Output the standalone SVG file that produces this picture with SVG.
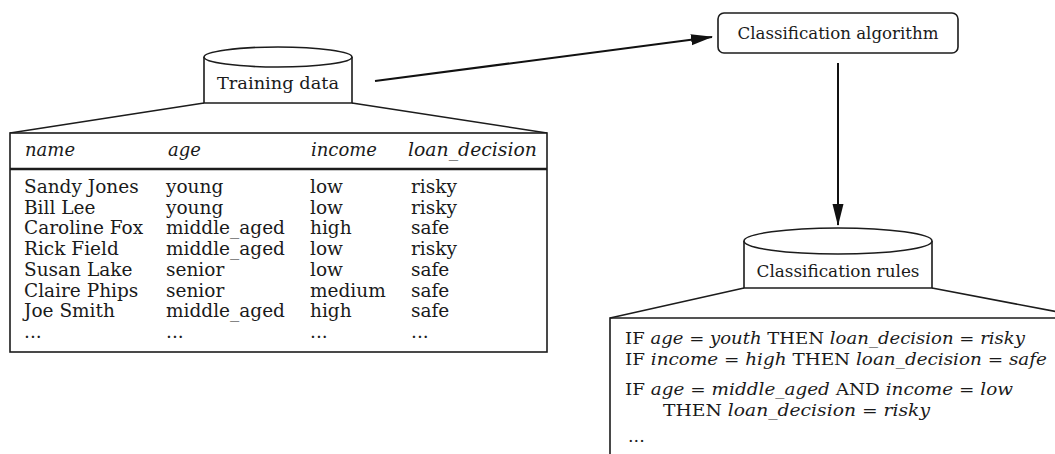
<svg xmlns="http://www.w3.org/2000/svg" width="1055" height="454" viewBox="0 0 1055 454">
  <defs>
    <marker id="arrow" markerWidth="22" markerHeight="14" refX="21" refY="7" orient="auto" markerUnits="userSpaceOnUse">
      <path d="M0,1.5 L22,7 L0,12.5 Z" fill="#111"/>
    </marker>
    <style>
      .frame { fill: #fff; stroke: #1c1c1c; stroke-width: 1.6; }
      .edge { fill: none; stroke: #1c1c1c; stroke-width: 1.6; }
      .link { fill: none; stroke: #111; stroke-width: 2; }
      text { font-family: "DejaVu Serif", "Liberation Serif", serif; fill: #1a1a1a; }
      .label { font-size: 17.5px; }
      .cell { font-size: 18.5px; }
      .head { font-size: 18px; font-style: italic; }
      .rule { font-size: 17.5px; }
      .it { font-style: italic; }
    </style>
  </defs>

  <!-- training data store with its table -->
  <g id="training-data">
    <path class="edge" d="M204,103 L10,133 M352,103 L547,133"/>
    <path class="frame" d="M204,57 L204,103 L352,103 L352,57"/>
    <ellipse class="frame" cx="278" cy="57" rx="74" ry="10"/>
    <text class="label" x="278" y="89" text-anchor="middle" textLength="122" lengthAdjust="spacingAndGlyphs">Training data</text>
  </g>

  <g id="training-table">
    <rect class="frame" x="10" y="133" width="537" height="219"/>
    <line x1="10" y1="169" x2="547" y2="169" stroke="#1c1c1c" stroke-width="2.6"/>
    <text class="head" x="25" y="156">name</text>
    <text class="head" x="168" y="156">age</text>
    <text class="head" x="311" y="156">income</text>
    <text class="head" x="408" y="156" textLength="129" lengthAdjust="spacingAndGlyphs">loan_decision</text>

    <g class="cell">
      <text x="24" y="193">Sandy Jones</text>
      <text x="24" y="213.7">Bill Lee</text>
      <text x="24" y="234.4">Caroline Fox</text>
      <text x="24" y="255.1">Rick Field</text>
      <text x="24" y="275.8">Susan Lake</text>
      <text x="24" y="296.5">Claire Phips</text>
      <text x="24" y="317.2">Joe Smith</text>
      <text x="24" y="337.9">...</text>

      <text x="166" y="193">young</text>
      <text x="166" y="213.7">young</text>
      <text x="166" y="234.4">middle_aged</text>
      <text x="166" y="255.1">middle_aged</text>
      <text x="166" y="275.8">senior</text>
      <text x="166" y="296.5">senior</text>
      <text x="166" y="317.2">middle_aged</text>
      <text x="166" y="337.9">...</text>

      <text x="310" y="193">low</text>
      <text x="310" y="213.7">low</text>
      <text x="310" y="234.4">high</text>
      <text x="310" y="255.1">low</text>
      <text x="310" y="275.8">low</text>
      <text x="310" y="296.5">medium</text>
      <text x="310" y="317.2">high</text>
      <text x="310" y="337.9">...</text>

      <text x="411" y="193">risky</text>
      <text x="411" y="213.7">risky</text>
      <text x="411" y="234.4">safe</text>
      <text x="411" y="255.1">risky</text>
      <text x="411" y="275.8">safe</text>
      <text x="411" y="296.5">safe</text>
      <text x="411" y="317.2">safe</text>
      <text x="411" y="337.9">...</text>
    </g>
  </g>

  <!-- learning step -->
  <g id="classification-algorithm">
    <rect class="frame" x="718" y="13" width="240" height="40" rx="6"/>
    <text class="label" x="838" y="39" text-anchor="middle" textLength="201" lengthAdjust="spacingAndGlyphs">Classification algorithm</text>
  </g>

  <!-- resulting rule store -->
  <g id="classification-rules">
    <path class="edge" d="M744,288 L610,318 M932,288 L1090,318"/>
    <path class="frame" d="M744,241 L744,288 L932,288 L932,241"/>
    <ellipse class="frame" cx="838" cy="241" rx="94" ry="13"/>
    <text class="label" x="838" y="277" text-anchor="middle" textLength="163" lengthAdjust="spacingAndGlyphs">Classification rules</text>
  </g>

  <g id="rules-list">
    <path class="edge" d="M610,460 L610,318 L1060,318"/>
    <text class="rule" x="625" y="344" textLength="400" lengthAdjust="spacingAndGlyphs">IF <tspan class="it">age</tspan> = <tspan class="it">youth</tspan> THEN <tspan class="it">loan_decision</tspan> = <tspan class="it">risky</tspan></text>
    <text class="rule" x="625" y="365" textLength="422" lengthAdjust="spacingAndGlyphs">IF <tspan class="it">income</tspan> = <tspan class="it">high</tspan> THEN <tspan class="it">loan_decision</tspan> = <tspan class="it">safe</tspan></text>
    <text class="rule" x="625" y="395" textLength="388" lengthAdjust="spacingAndGlyphs">IF <tspan class="it">age</tspan> = <tspan class="it">middle_aged</tspan> AND <tspan class="it">income</tspan> = <tspan class="it">low</tspan></text>
    <text class="rule" x="663" y="416" textLength="267" lengthAdjust="spacingAndGlyphs">THEN <tspan class="it">loan_decision</tspan> = <tspan class="it">risky</tspan></text>
    <text class="rule" x="628" y="442">...</text>
  </g>

  <!-- flow between the stages -->
  <g id="connectors">
    <line class="link" x1="375" y1="81" x2="712" y2="37" marker-end="url(#arrow)"/>
    <line class="link" x1="838" y1="63" x2="838" y2="225" marker-end="url(#arrow)"/>
  </g>
</svg>
